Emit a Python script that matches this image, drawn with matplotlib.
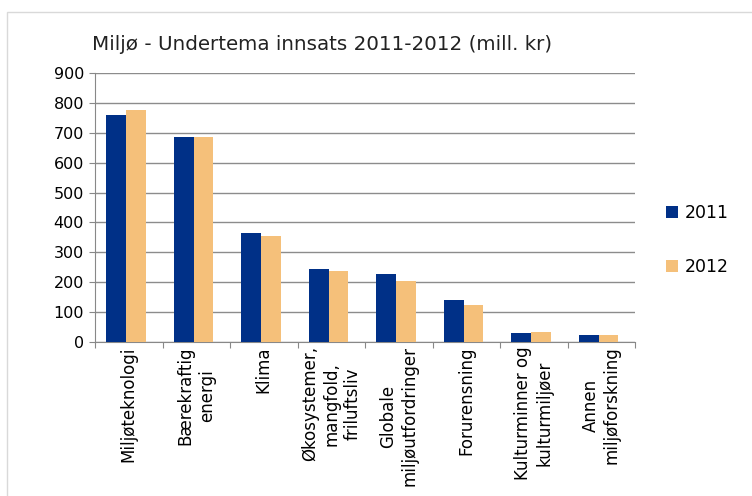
import matplotlib
matplotlib.use("Agg")
import matplotlib.pyplot as plt
import numpy as np
from matplotlib.patches import Rectangle

categories = ["Miljøteknologi", "Bærekraftig\nenergi", "Klima",
              "Økosystemer,\nmangfold,\nfriluftsliv", "Globale\nmiljøutfordringer",
              "Forurensning", "Kulturminner og\nkulturmiljøer", "Annen\nmiljøforskning"]
vals_2011 = [759, 686, 365, 244, 228, 140, 30, 23]
vals_2012 = [776, 686, 355, 237, 204, 124, 32, 22]
series_labels = ["2011", "2012"]
yticks = [0, 100, 200, 300, 400, 500, 600, 700, 800, 900]

plt.rcParams.update({"font.family": "DejaVu Sans"})

fig = plt.figure(figsize=(7.52, 4.96), dpi=100)
fig.patches.append(Rectangle((7 / 752, -0.1), 1.0, 1 - 12 / 496 + 0.1, transform=fig.transFigure,
                             fill=False, edgecolor="#d9d9d9", lw=1))
ax = fig.add_axes([95 / 752, 1 - 342 / 496, 540 / 752, 269 / 496])

x = np.arange(len(categories))
w = 0.29
ax.bar(x - w / 2 - 0.04, vals_2011, w, color="#003087", label=series_labels[0], zorder=3)
ax.bar(x + w / 2 - 0.04, vals_2012, w, color="#f5c07a", label=series_labels[1], zorder=3)

ax.set_xlim(-0.5, len(categories) - 0.5)
ax.set_ylim(0, 900)
ax.set_yticks(yticks)
ax.tick_params(axis="y", labelsize=11.5, length=4, color="#888888", pad=4)
ax.set_xticks(np.arange(len(categories) + 1) - 0.5, minor=False)
ax.set_xticklabels([])
ax.tick_params(axis="x", length=4, color="#888888", direction="out")
for i, c in enumerate(categories):
    ax.text(i, -14, c, rotation=90, ha="center", va="top", fontsize=12,
            multialignment="center", transform=ax.transData, linespacing=1.25)
ax.yaxis.grid(True, color="#8c8c8c", lw=1, zorder=0)
for s in ["top", "right"]:
    ax.spines[s].set_visible(False)
ax.spines["left"].set_color("#888888")
ax.spines["bottom"].set_color("#888888")

fig.text(92 / 752, 1 - 45 / 496, "Miljø - Undertema innsats 2011-2012 (mill. kr)",
         fontsize=14.3, va="center", ha="left", color="#222222")

leg = fig.legend(loc="center left", bbox_to_anchor=(650 / 752, 1 - 240 / 496), frameon=False,
                 fontsize=12.5, handlelength=0.7, handleheight=0.7, labelspacing=2.1,
                 handletextpad=0.4)

fig.savefig("out.png", dpi=100, facecolor="white")
